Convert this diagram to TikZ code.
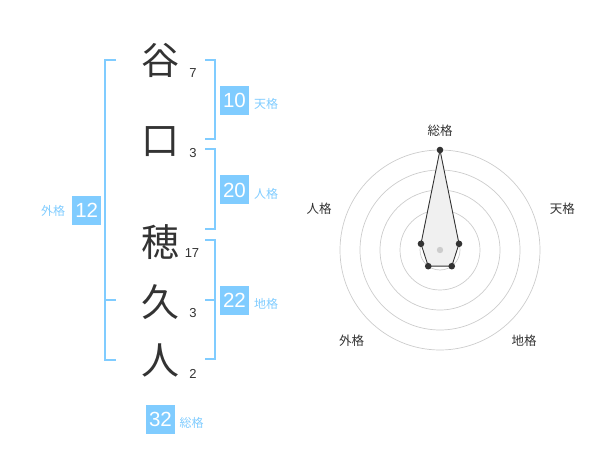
\documentclass[tikz,border=0pt]{standalone}
\usepackage{fontspec}
\setmainfont{Liberation Sans}
\newfontfamily\jp{Noto Sans CJK JP}
\definecolor{kblue}{RGB}{128,204,255}
\definecolor{ktext}{RGB}{51,51,51}
\definecolor{kgrid}{RGB}{204,204,204}
\definecolor{kfill}{RGB}{240,240,240}
\begin{document}
\begin{tikzpicture}[x=1pt,y=-1pt,
  kanji/.style={font=\jp\fontsize{38}{38}\selectfont, text=ktext, inner sep=0},
  strokes/.style={font=\fontsize{13}{13}\selectfont, text=ktext, inner sep=0},
  numbox/.style={fill=kblue, text=white, minimum width=29pt, minimum height=29pt, inner sep=0, font=\fontsize{20.5}{20.5}\selectfont},
  lbl/.style={font=\jp\fontsize{12}{12}\selectfont, text=kblue, inner sep=0},
  brk/.style={draw=kblue, line width=2pt},
  grid/.style={draw=kgrid, line width=0.7pt},
  axlbl/.style={font=\jp\fontsize{12.5}{12.5}\selectfont, text=ktext, inner sep=0},
  vdot/.style={fill=ktext}
]
\useasboundingbox (0,0) rectangle (600,470);

% name characters
\node[kanji] (k1) at (160,60) {谷};
\node[kanji] (k2) at (160,142) {口};
\node[kanji] (k3) at (160,242) {穂};
\node[kanji] (k4) at (160,302) {久};
\node[kanji] (k5) at (160,360) {人};

% stroke counts
\node[strokes] (s1) at (193,73) {7};
\node[strokes] (s2) at (193,153) {3};
\node[strokes] (s3) at (192,253) {17};
\node[strokes] (s4) at (193,313) {3};
\node[strokes] (s5) at (193,374) {2};

% brackets
\draw[brk] (116,60) -- (105,60) -- (105,360) -- (116,360);
\draw[brk] (105,300) -- (116,300);
\draw[brk] (205,60) -- (215,60) -- (215,139.5) -- (205,139.5);
\draw[brk] (205,149.5) -- (215,149.5) -- (215,229.5) -- (205,229.5);
\draw[brk] (205,240) -- (215,240) -- (215,359.5) -- (205,359.5);
\draw[brk] (205,300) -- (215,300);

% boxes and labels
\node[numbox] (b1) at (234.5,100.5) {10};
\node[lbl] (l1) at (266,104) {天格};
\node[numbox] (b2) at (234.5,190) {20};
\node[lbl] (l2) at (266,194) {人格};
\node[numbox] (b3) at (234.5,300.3) {22};
\node[lbl] (l3) at (266,304) {地格};
\node[numbox] (b4) at (86.7,210.5) {12};
\node[lbl] (l4) at (53,211) {外格};
\node[numbox] (b5) at (160.5,419) {32};
\node[lbl] (l5) at (191.7,422.7) {総格};

% radar chart
\begin{scope}[shift={(440,250)}, yscale=-1]
  \foreach \r in {20,40,60,80,100} \draw[grid] (0,0) circle[radius=\r];
  \draw[fill=kfill, draw=ktext, line width=0.9pt] (90:100) -- (18:20) -- (-54:20) -- (-126:20) -- (162:20) -- cycle;
  \fill[kgrid] (0,0) circle[radius=3.2];
  \foreach \a/\r in {90/100,18/20,-54/20,-126/20,162/20} \fill[vdot] (\a:\r) circle[radius=3.3];
\end{scope}
\node[axlbl] (r1) at (440,130.7) {総格};
\node[axlbl] (r2) at (562.3,208.3) {天格};
\node[axlbl] (r3) at (524,341) {地格};
\node[axlbl] (r4) at (351.7,341) {外格};
\node[axlbl] (r5) at (319,208.3) {人格};
\end{tikzpicture}
\end{document}
